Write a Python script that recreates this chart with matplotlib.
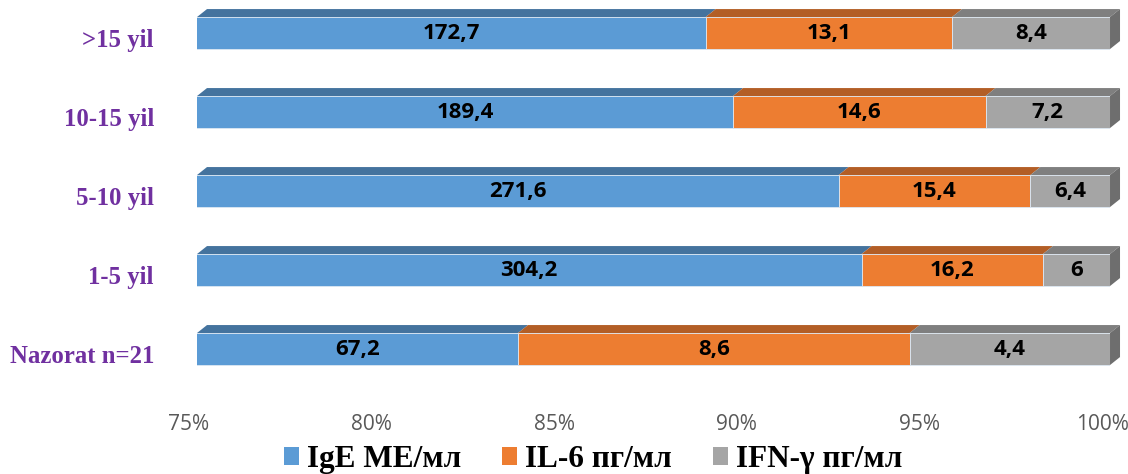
import matplotlib
matplotlib.use("Agg")
import matplotlib.pyplot as plt
from matplotlib.patches import Polygon, Patch
from matplotlib.transforms import ScaledTranslation

# Categories, bottom to top
categories = ["Nazorat n=21", "1-5 yil", "5-10 yil", "10-15 yil", ">15 yil"]
series_names = ["IgE ME/мл", "IL-6 пг/мл", "IFN-γ пг/мл"]
ige = [67.2, 304.2, 271.6, 189.4, 172.7]
il6 = [8.6, 16.2, 15.4, 14.6, 13.1]
ifn = [4.4, 6, 6.4, 7.2, 8.4]
x_ticks = [75, 80, 85, 90, 95, 100]
x_tick_labels = ["75%", "80%", "85%", "90%", "95%", "100%"]

front_colors = ["#5B9BD5", "#ED7D31", "#A5A5A5"]
top_colors = ["#44739E", "#B35E26", "#7F7F7F"]
side_color = "#6E6E6E"

XMIN, XMAX = 75, 100
BAR_H = 0.405
DX = 0.274   # depth offset, percent units
DY = 0.101   # depth offset, category units

fig = plt.figure(figsize=(11.28, 4.74), dpi=100)
ax = fig.add_axes([0.17465, 0.1470, 0.8094, 0.8333])
ax.set_xlim(XMIN, XMAX)
ax.set_ylim(-0.7, 4.3)

series = [ige, il6, ifn]
ypos = list(range(len(categories)))

for i, y in enumerate(ypos):
    total = sum(s[i] for s in series)
    left = 0.0
    for k, s in enumerate(series):
        share = s[i] / total * 100
        right = left + share
        ax.barh(y, share, left=left, height=BAR_H, color=front_colors[k],
                edgecolor="#DDE8F3", linewidth=0.6, zorder=2)
        x0 = max(left, XMIN)
        top = y + BAR_H / 2
        ax.add_patch(Polygon([(x0, top), (right, top), (right + DX, top + DY),
                              (x0 + DX, top + DY)], closed=True,
                             facecolor=top_colors[k], edgecolor="none",
                             zorder=2, clip_on=False))
        label = f"{s[i]:g}".replace(".", ",")
        ax.text((x0 + right) / 2, y, label, ha="center", va="center",
                fontsize=16, fontweight="bold", family="Open Sans",
                color="black", zorder=3)
        left = right
    bot = y - BAR_H / 2
    top = y + BAR_H / 2
    ax.add_patch(Polygon([(XMAX, bot), (XMAX, top), (XMAX + DX, top + DY),
                          (XMAX + DX, bot + DY)], closed=True,
                         facecolor=side_color, edgecolor="none",
                         zorder=2, clip_on=False))

for sp in ax.spines.values():
    sp.set_visible(False)

ax.set_xticks(x_ticks)
ax.set_xticklabels(x_tick_labels, fontsize=15, family="Open Sans", color="#595959")
ax.tick_params(axis="x", length=0, pad=7)
shift_x = ScaledTranslation(-8 / 100, 0, fig.dpi_scale_trans)
for lab in ax.get_xticklabels():
    lab.set_transform(lab.get_transform() + shift_x)

ax.set_yticks(ypos)
ax.set_yticklabels(categories, fontsize=17.8, family="Liberation Serif",
                   fontweight="bold", color="#7030A0")
ax.tick_params(axis="y", length=0, pad=31)
shift_y = ScaledTranslation(0, -5 / 100, fig.dpi_scale_trans)
for lab in ax.get_yticklabels():
    lab.set_transform(lab.get_transform() + shift_y)

handles = [Patch(facecolor=c, edgecolor="none") for c in front_colors]
fig.legend(handles, series_names, loc="center", bbox_to_anchor=(0.526, 0.030),
           ncol=3, frameon=False, handlelength=0.48, handleheight=0.48,
           handletextpad=0.26, columnspacing=1.31,
           prop={"family": "Liberation Serif", "weight": "bold", "size": 22.5})

fig.savefig("out.png", dpi=100)
